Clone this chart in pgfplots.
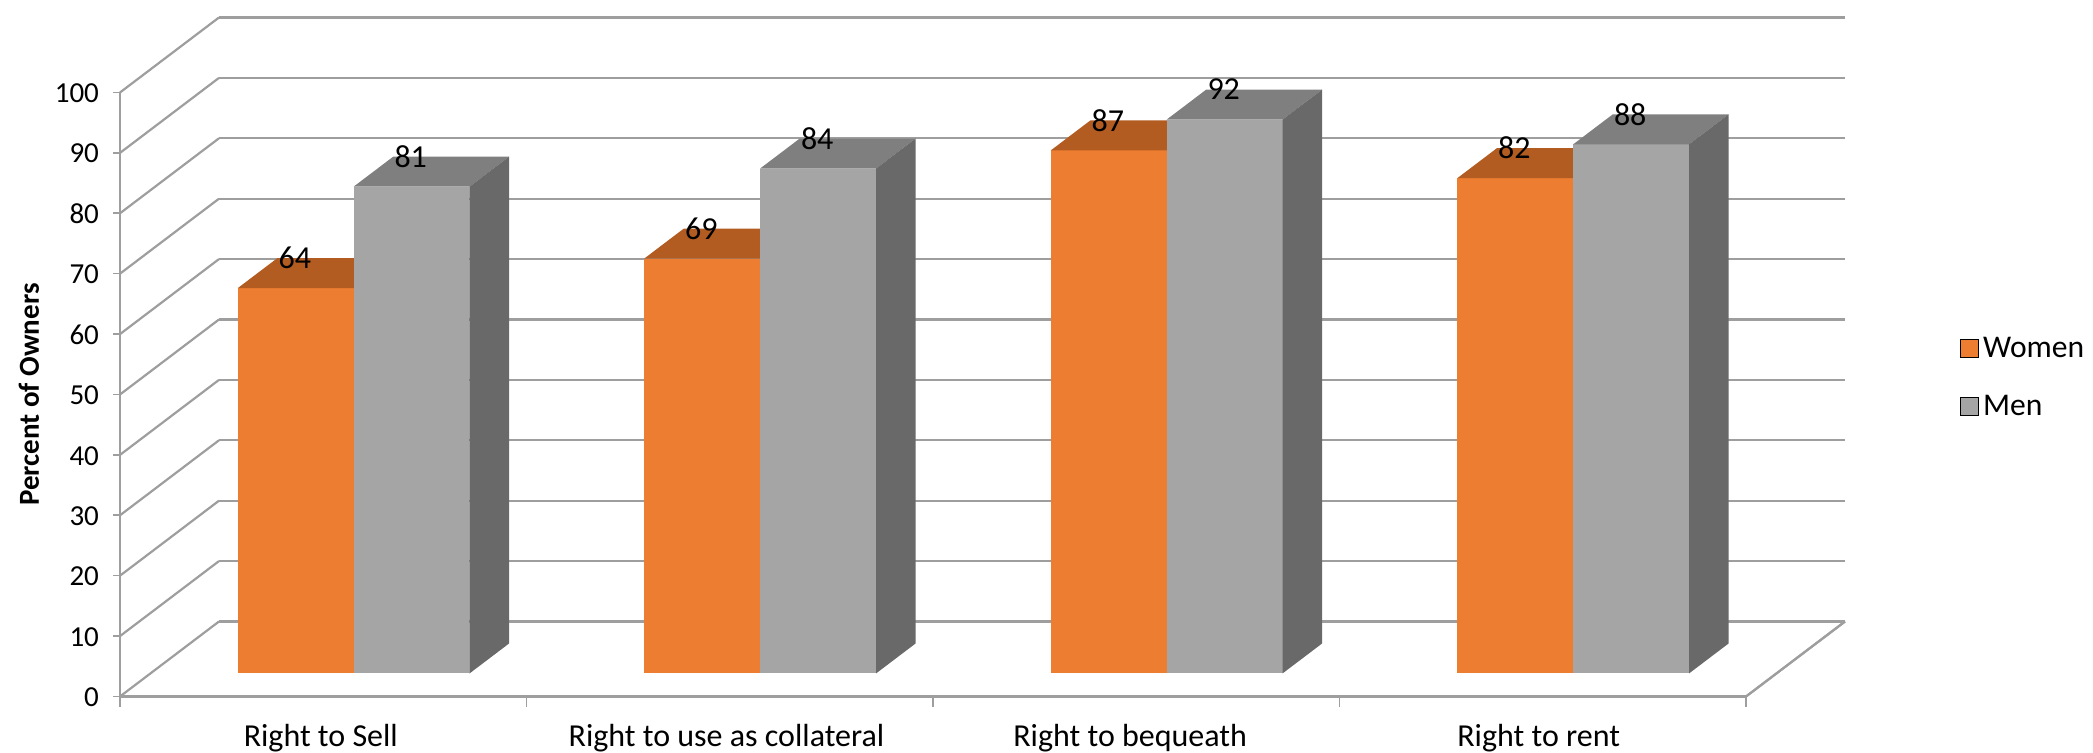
\documentclass[border=0pt]{standalone}
\usepackage{fontspec}
\setmainfont{Carlito}
\usepackage{pgfplots}
\pgfplotsset{compat=1.18}
\usetikzlibrary{calc}
\definecolor{wf}{HTML}{ED7D31}
\definecolor{wt}{HTML}{B25C22}
\definecolor{mf}{HTML}{A5A5A5}
\definecolor{mt}{HTML}{7F7F7F}
\definecolor{ms}{HTML}{696969}
\definecolor{gl}{HTML}{9E9E9E}
% #1 category, #2 women height, #3 men height, #4 women label, #5 men label
\newcommand\barpair[5]{%
  \addplot3[fill=wf,draw=none,no markers,forget plot] coordinates {(#1+0.215,0.307,0) (#1+0.5,0.307,0) (#1+0.5,0.307,#2) (#1+0.215,0.307,#2)};
  \addplot3[fill=wt,draw=none,no markers,forget plot] coordinates {(#1+0.215,0.307,#2) (#1+0.5,0.307,#2) (#1+0.5,0.707,#2) (#1+0.215,0.707,#2)};
  \addplot3[fill=mf,draw=none,no markers,forget plot] coordinates {(#1+0.5,0.307,0) (#1+0.785,0.307,0) (#1+0.785,0.307,#3) (#1+0.5,0.307,#3)};
  \addplot3[fill=mt,draw=none,no markers,forget plot] coordinates {(#1+0.5,0.307,#3) (#1+0.785,0.307,#3) (#1+0.785,0.707,#3) (#1+0.5,0.707,#3)};
  \addplot3[fill=ms,draw=none,no markers,forget plot] coordinates {(#1+0.785,0.307,0) (#1+0.785,0.707,0) (#1+0.785,0.707,#3) (#1+0.785,0.307,#3)};
  \node[font=\fontsize{16}{18}\selectfont,inner sep=0pt] at (axis cs:#1+0.258,0.707,#2) {#4};
  \node[font=\fontsize{16}{18}\selectfont,inner sep=0pt] at (axis cs:#1+0.543,0.707,#3) {#5};
}
\newcommand\xt[1]{\addplot3[gl,line width=0.6pt,no markers,forget plot] coordinates {(#1,0,0) (#1,0,-1.66)};}
\newcommand\zt[1]{\addplot3[gl,line width=0.8pt,no markers,forget plot] coordinates {(0,0,#1) (-0.0172,0,#1)};}
\begin{document}
\begin{tikzpicture}
\begin{axis}[
  x={(203.25pt,0pt)}, y={(49.5pt,37.5pt)}, z={(0pt,3.02pt)},
  xmin=0,xmax=4,ymin=0,ymax=1,zmin=0,zmax=100,
  axis lines*=left,
  axis line style={gl,line width=1.1pt,-},
  clip=false,
  ztick={0,10,...,100},
  ytick=\empty,
  xtick={0.494,1.492,2.485,3.49},
  xticklabels={Right to Sell,Right to use as collateral,Right to bequeath,Right to rent},
  zmajorgrids=true,
  grid style={gl,line width=1.1pt},
  tick align=outside,
  major tick length=0pt,
  x tick style={draw=none},
  z tick style={draw=none},
  z tick label style={font=\fontsize{14.5}{16}\selectfont,anchor=east,xshift=-7pt,yshift=-0.4pt},
  /pgf/number format/assume math mode=true,
  x tick label style={font=\fontsize{16}{18}\selectfont,anchor=center,yshift=-21pt},
  zlabel={\fontsize{14.5}{15}\selectfont\bfseries Percent of Owners},
  every axis z label/.style={at={(axis cs:0,0,0)},anchor=center,xshift=-45.5pt,yshift=151pt,rotate=90},
  legend cell align=left,
  legend image code/.code={\fill (0pt,-4.5pt) rectangle (9pt,4.5pt);},
  legend style={draw=none,fill=none,at={(axis cs:4,0,0)},anchor=west,xshift=107pt,yshift=159.5pt,
    font=\fontsize{15.8}{18}\selectfont,row sep=13.3pt,inner sep=0pt,
    /tikz/every even column/.append style={column sep=6pt}},
]
\addlegendimage{fill=wf}
\addlegendentry{Women}
\addlegendimage{fill=mf}
\addlegendentry{Men}
\addplot3[gl,line width=1.1pt,no markers,forget plot] coordinates {(4,0,0) (4,1,0)};
\coordinate (O) at (axis cs:0,0,0);
\xt{0}\xt{1}\xt{2}\xt{3}\xt{4}
\zt{0}\zt{10}\zt{20}\zt{30}\zt{40}\zt{50}\zt{60}\zt{70}\zt{80}\zt{90}\zt{100}
\barpair{0}{63.8}{80.6}{64}{81}
\barpair{1}{68.7}{83.6}{69}{84}
\barpair{2}{86.6}{91.7}{87}{92}
\barpair{3}{82}{87.6}{82}{88}
\end{axis}
\pgfresetboundingbox
\path[use as bounding box] ($(O)+(-60pt,-28.25pt)$) rectangle ($(O)+(986.5pt,348.25pt)$);
\end{tikzpicture}
\end{document}
